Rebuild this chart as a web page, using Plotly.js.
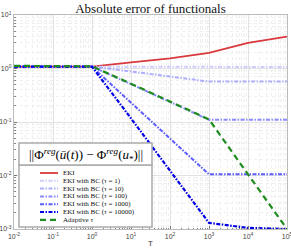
<!DOCTYPE html>
<html><head><meta charset="utf-8">
<script src="https://cdn.plot.ly/plotly-3.0.1.min.js"></script>
<style>body{margin:0;background:#fff}</style>
</head><body><div id="chart" style="width:291px;height:250px"></div>
<script>
// ---- data ----
const T = [0.01, 0.1, 1, 10, 100, 1000, 10000, 100000];
const eki      = [1.08, 1.08, 1.08, 1.30, 1.54, 1.95, 3.00, 3.95];
const bc1      = [1.08, 1.08, 1.08, 1.08, 1.07, 1.07, 1.07, 1.07];
const bc10     = [1.08, 1.08, 1.08, 0.88, 0.71, 0.57, 0.57, 0.57];
const bc100    = [1.08, 1.08, 1.08, 0.51, 0.24, 0.11, 0.11, 0.11];
const bc1000   = [1.08, 1.08, 1.08, 0.23, 0.049, 0.0105, 0.0105, 0.0105];
const bc10000  = [1.08, 1.08, 1.08, 0.117, 0.0124, 0.0013, 0.00105, 0.001];
const adaptive = [1.12, 1.12, 1.10, 0.52, 0.245, 0.112, 0.0105, 0.001];

const seriesNames = ['EKI', 'EKI with BC (τ = 1)', 'EKI with BC (τ = 10)', 'EKI with BC (τ = 100)',
                     'EKI with BC (τ = 1000)', 'EKI with BC (τ = 10000)', 'Adaptive <i>τ</i>'];
const xTickVals = [0.01, 0.1, 1, 10, 100, 1000, 10000, 100000];
const xTickText = ['10<sup>-2</sup>', '10<sup>-1</sup>', '10<sup>0</sup>', '10<sup>1</sup>', '10<sup>2</sup>', '10<sup>3</sup>', '10<sup>4</sup>', '10<sup>5</sup>'];
const yTickVals = [0.001, 0.01, 0.1, 1, 10];
const yTickText = ['10<sup>-3</sup>', '10<sup>-2</sup>', '10<sup>-1</sup>', '10<sup>0</sup>', '10<sup>1</sup>'];
const titleText = 'Absolute error of functionals';
const legendTitle = '||Φ<sup><i>reg</i></sup>(<i>ū</i>(<i>t</i>)) − Φ<sup><i>reg</i></sup>(<i>u</i><sub>*</sub>)||';

// ---- styles ----
const seriesData = [eki, bc1, bc10, bc100, bc1000, bc10000, adaptive];
const colors = ['#d9393c', '#cdcdff', '#aeaeff', '#8a8aff', '#5c5cff', '#0000e6', '#1e8c1e'];
const dashes = ['solid', '4px,1.5px,1.5px,1.5px', '4px,1.5px,1.5px,1.5px', '4px,1.5px,1.5px,1.5px',
                '4px,1.5px,1.5px,1.5px', '4px,1.5px,1.5px,1.5px', '6px,4px'];
const widths = [1.8, 2, 2, 2, 2, 2.2, 2.2];

const traces = seriesData.map((y, i) => ({
  x: T, y: y, type: 'scatter', mode: 'lines', name: seriesNames[i],
  line: {color: colors[i], dash: dashes[i], width: widths[i]}, showlegend: false
}));

// plot area in pixels
const L = 14, R = 287, TOP = 15, BOT = 229;
const px = v => (v - L) / (R - L);
const py = v => (BOT - v) / (BOT - TOP);

const shapes = [
  {type: 'rect', xref: 'paper', yref: 'paper', x0: px(19), x1: px(152), y0: py(227), y1: py(165),
   fillcolor: '#fff', line: {color: '#aaa', width: 1.5}},
  {type: 'rect', xref: 'paper', yref: 'paper', x0: px(19), x1: px(152), y0: py(165), y1: py(143),
   fillcolor: '#fff', line: {color: '#aaa', width: 1.5}}
];
const annotations = [
  {xref: 'paper', yref: 'paper', x: px(85.5), y: py(154.5), text: legendTitle, showarrow: false,
   font: {family: 'Liberation Serif', size: 13, color: '#000'}, xanchor: 'center', yanchor: 'middle'}
];
seriesNames.forEach((n, i) => {
  const yy = 173 + i * 7.8;
  shapes.push({type: 'line', xref: 'paper', yref: 'paper', x0: px(40), x1: px(58), y0: py(yy), y1: py(yy),
    line: {color: colors[i], dash: dashes[i], width: widths[i]}});
  annotations.push({xref: 'paper', yref: 'paper', x: px(61), y: py(yy), text: n, showarrow: false,
    xanchor: 'left', yanchor: 'middle', font: {family: 'Liberation Serif', size: 7, color: '#111'}});
});

const axisCommon = {
  type: 'log', tickmode: 'array', showline: true, linecolor: '#bbb', linewidth: 1.2, mirror: true,
  ticks: 'inside', ticklen: 3, tickcolor: '#777', showgrid: true, gridcolor: '#e2e2e2', gridwidth: 1,
  zeroline: false, ticklabeloverflow: 'allow',
  tickfont: {family: 'Liberation Sans', size: 7, color: '#444'},
  minor: {dtick: 'D1', ticks: 'inside', ticklen: 1.5, tickcolor: '#888', showgrid: true,
          gridcolor: '#efefef', griddash: 'dot', gridwidth: 1}
};

const layout = {
  width: 291, height: 250,
  margin: {l: L, r: 291 - R, t: TOP, b: 250 - BOT},
  paper_bgcolor: '#fff', plot_bgcolor: '#fff',
  title: {text: titleText, font: {family: 'Liberation Serif', size: 13, color: '#111'},
          x: 0.5, xref: 'paper', y: 1 - 8 / 250, yref: 'container', yanchor: 'middle'},
  xaxis: Object.assign({}, axisCommon, {range: [-2, 5], tickvals: xTickVals, ticktext: xTickText,
          title: {text: 'T', font: {family: 'Liberation Sans', size: 8, color: '#333'}, standoff: 1}}),
  yaxis: Object.assign({}, axisCommon, {range: [-3, 1], tickvals: yTickVals, ticktext: yTickText}),
  shapes: shapes, annotations: annotations, showlegend: false
};

Plotly.newPlot('chart', traces, layout, {displayModeBar: false, staticPlot: true});
</script></body></html>
